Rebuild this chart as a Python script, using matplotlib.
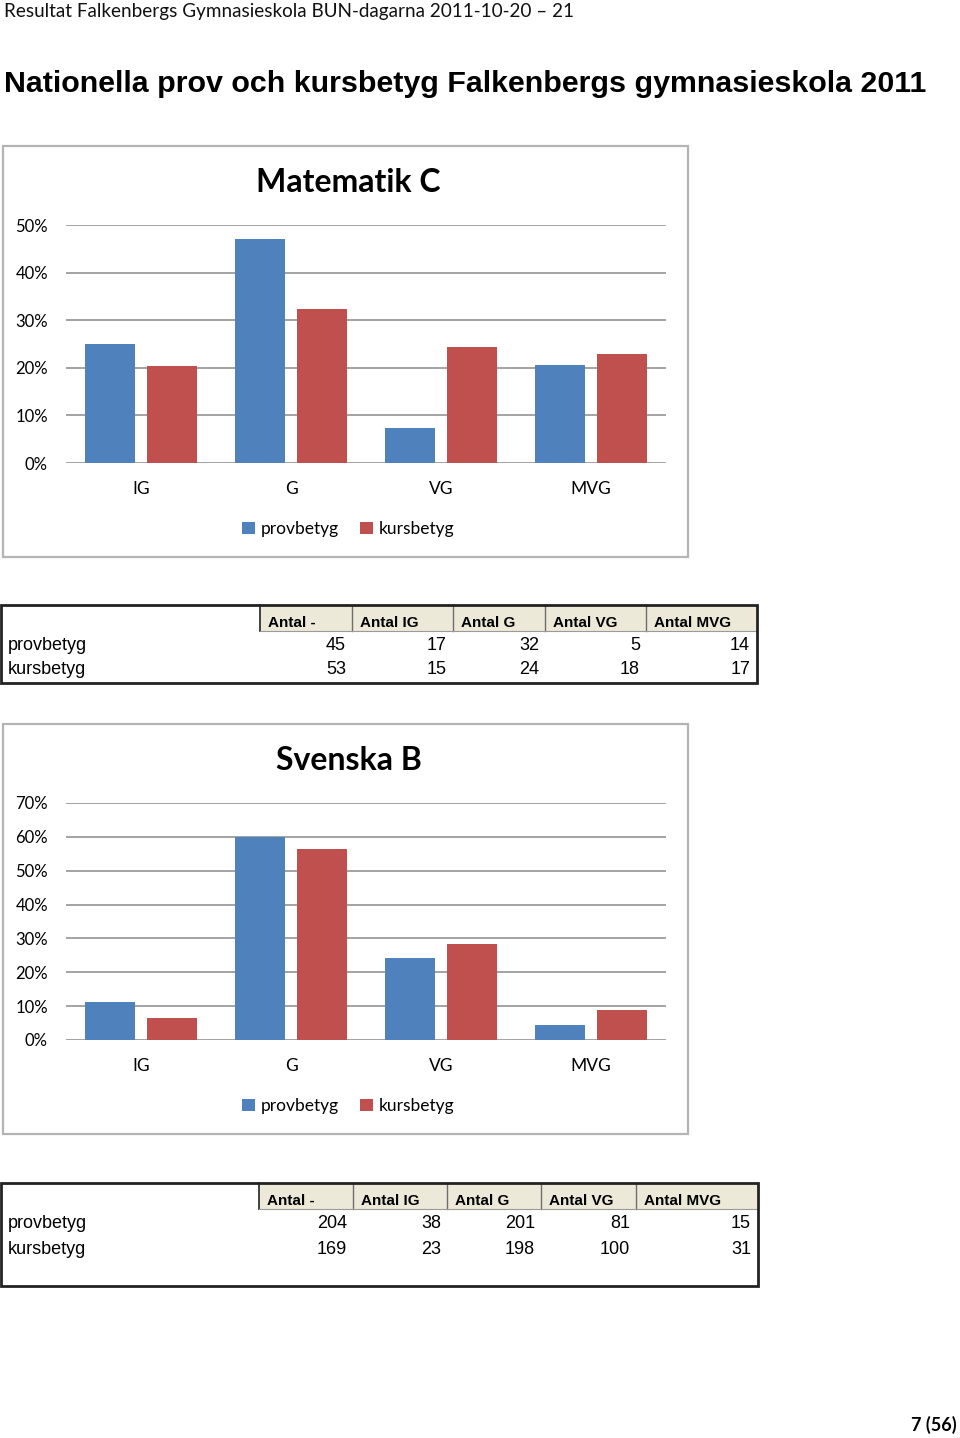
import matplotlib
matplotlib.use("Agg")
import matplotlib.pyplot as plt
from matplotlib.patches import Rectangle
import numpy as np

# ---------------- data ----------------
categories = ["IG", "G", "VG", "MVG"]
series_names = ["provbetyg", "kursbetyg"]

mat_prov = [25.0, 47.1, 7.4, 20.6]
mat_kurs = [20.3, 32.4, 24.3, 23.0]
sv_prov = [11.3, 60.0, 24.2, 4.5]
sv_kurs = [6.5, 56.3, 28.4, 8.8]

table_headers = ["Antal -", "Antal IG", "Antal G", "Antal VG", "Antal MVG"]
mat_table_prov = [45, 17, 32, 5, 14]
mat_table_kurs = [53, 15, 24, 18, 17]
sv_table_prov = [204, 38, 201, 81, 15]
sv_table_kurs = [169, 23, 198, 100, 31]

# ---------------- layout helpers ----------------
W, H = 960, 1438
fig = plt.figure(figsize=(W / 100, H / 100), dpi=100)
fig.patch.set_facecolor("white")

BLUE = "#4f81bd"
RED = "#c0504d"
CAL = ["Lato", "DejaVu Sans"]
ARI = ["Liberation Sans", "DejaVu Sans"]


def fx(x):
    return x / W


def fy(y):
    return 1 - y / H


def text(x, y, s, **kw):
    fig.text(fx(x), fy(y), s, **kw)


def rect(x0, y0, x1, y1, **kw):
    fig.add_artist(Rectangle((fx(x0), fy(y1)), fx(x1) - fx(x0), fy(y0) - fy(y1),
                             transform=fig.transFigure, **kw))


def hline(x0, x1, y, **kw):
    fig.add_artist(plt.Line2D([fx(x0), fx(x1)], [fy(y), fy(y)], transform=fig.transFigure, **kw))


def vline(x, y0, y1, **kw):
    fig.add_artist(plt.Line2D([fx(x), fx(x)], [fy(y0), fy(y1)], transform=fig.transFigure, **kw))


# ---------------- page texts ----------------
text(4, 12, "Resultat Falkenbergs Gymnasieskola BUN-dagarna 2011-10-20 \u2013 21",
     family=CAL, fontsize=13.6, va="center", ha="left", color="#111111")
text(4, 84, "Nationella prov och kursbetyg Falkenbergs gymnasieskola 2011",
     family=ARI, fontsize=21.9, fontweight="bold", va="center", ha="left", color="black")
text(957, 1425, "7 (56)", family=CAL, fontsize=13, fontweight="bold", va="center", ha="right")


# ---------------- charts ----------------
def chart(box, title, title_y, ax_top, ax_bot, ymax, prov, kurs, legend_y):
    bx0, by0, bx1, by1 = box
    rect(bx0, by0, bx1, by1, fill=False, edgecolor="#b4b4b4", lw=1.6, zorder=0)
    text((bx0 + bx1) / 2 + 3, title_y, title, family=CAL, fontsize=23, fontweight="bold",
         ha="center", va="center")
    ax = fig.add_axes([fx(66), fy(ax_bot), fx(666) - fx(66), fy(ax_top) - fy(ax_bot)])
    x = np.arange(len(categories))
    ax.bar(x - 0.207, prov, width=0.333, color=BLUE, label=series_names[0], zorder=3)
    ax.bar(x + 0.207, kurs, width=0.333, color=RED, label=series_names[1], zorder=3)
    ax.set_xlim(-0.5, len(categories) - 0.5)
    ax.set_ylim(0, ymax)
    ticks = np.arange(0, ymax + 0.1, 10)
    ax.set_yticks(ticks)
    ax.set_yticklabels([f"{int(t)}%" for t in ticks], family=CAL, fontsize=12)
    ax.set_xticks(x)
    ax.set_xticklabels(categories, family=CAL, fontsize=12.5)
    for t in ticks:
        ax.axhline(t, color="#8a8a8a", lw=1.1, zorder=1)
    for s in ax.spines.values():
        s.set_visible(False)
    ax.tick_params(axis="y", length=0, pad=13)
    ax.tick_params(axis="x", length=0, pad=13)
    ax.set_facecolor("none")
    ax.legend(loc="center", bbox_to_anchor=(fx(348), fy(legend_y + 1)),
              bbox_transform=fig.transFigure, ncol=2, frameon=False,
              prop={"family": CAL, "size": 12.5}, handlelength=0.75,
              handleheight=0.75, handletextpad=0.35, columnspacing=1.2)
    return ax


chart((3, 146, 688, 557), "Matematik C", 182, 225, 463, 50, mat_prov, mat_kurs, 528)
chart((3, 724, 688, 1134), "Svenska B", 760, 803, 1040, 70, sv_prov, sv_kurs, 1105)


# ---------------- tables ----------------
def table(box, cols, header_bottom, row_ys, prov, kurs):
    bx0, by0, bx1, by1 = box
    rect(cols[0], by0, cols[-1], header_bottom, facecolor="#ece9d8", edgecolor="none", zorder=1)
    vline(cols[0], by0, header_bottom, color="#333333", lw=1.3, zorder=2)
    for c in cols[1:-1]:
        vline(c, by0, header_bottom, color="#6e6e6e", lw=1.0, zorder=2)
    hline(cols[0], cols[-1], header_bottom, color="#9a9a9a", lw=0.8, zorder=2)
    for i, h in enumerate(table_headers):
        text(cols[i] + 8, header_bottom - 8, h, family=ARI, fontsize=11, fontweight="bold",
             ha="left", va="center", zorder=3)
    rect(bx0, by0, bx1, by1, fill=False, edgecolor="#222222", lw=2.0, zorder=4)
    for name, vals, ry in [(series_names[0], prov, row_ys[0]), (series_names[1], kurs, row_ys[1])]:
        text(8, ry, name, family=ARI, fontsize=13, ha="left", va="center")
        for i, v in enumerate(vals):
            text(cols[i + 1] - 6, ry, str(v), family=ARI, fontsize=13, ha="right", va="center")


table((1, 605, 757, 683), [260, 352, 453, 545, 646, 756], 631, (646, 670),
      mat_table_prov, mat_table_kurs)
table((1, 1183, 758, 1286), [259, 353, 447, 541, 636, 757], 1209, (1224, 1250),
      sv_table_prov, sv_table_kurs)

fig.savefig("out.png", dpi=100, facecolor="white")
